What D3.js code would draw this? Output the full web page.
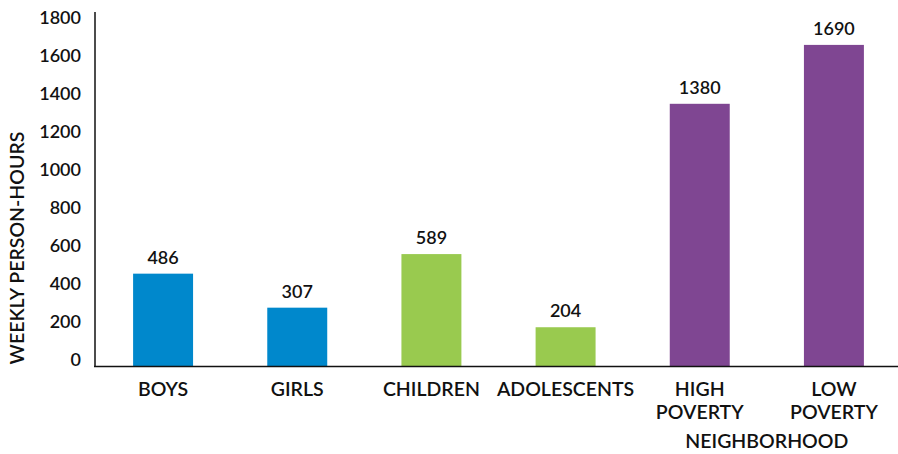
<!DOCTYPE html>
<html>
<head>
<meta charset="utf-8">
<script src="https://cdn.jsdelivr.net/npm/d3@7"></script>
<style>
  html, body { margin: 0; padding: 0; background: #fff; }
  svg text { font-family: "Lato", "Open Sans", sans-serif; font-weight: 600; fill: #111; }
</style>
</head>
<body>
<svg id="chart" width="898" height="454"></svg>
<script>
// Weekly person-hours by group
const categories = ["BOYS", "GIRLS", "CHILDREN", "ADOLESCENTS", "HIGH POVERTY", "LOW POVERTY"];
const labelLines = [["BOYS"], ["GIRLS"], ["CHILDREN"], ["ADOLESCENTS"], ["HIGH", "POVERTY"], ["LOW", "POVERTY"]];
const values = [486, 307, 589, 204, 1380, 1690];
const groups = ["sex", "sex", "age", "age", "neighborhood", "neighborhood"];
const yTicks = [0, 200, 400, 600, 800, 1000, 1200, 1400, 1600, 1800];
const groupColors = { sex: "#0088cc", age: "#99ca4f", neighborhood: "#7f4692" };

const svg = d3.select("#chart");
const baseY = 366;
const numSize = 18;
const wordSize = 19.5;

const x = d3.scaleBand()
  .domain(categories)
  .range([96, 901])
  .paddingInner(0.553)
  .paddingOuter(0.2765);

const y = d3.scaleLinear()
  .domain([0, 1800])
  .range([baseY, baseY - 1800 * 0.19]);

// Bars
svg.append("g").selectAll("rect")
  .data(values)
  .join("rect")
  .attr("x", (d, i) => x(categories[i]))
  .attr("width", x.bandwidth())
  .attr("y", d => y(d))
  .attr("height", d => y(0) - y(d) + 1)
  .attr("fill", (d, i) => groupColors[groups[i]]);

// Value labels above bars
svg.append("g").selectAll("text")
  .data(values)
  .join("text")
  .attr("x", (d, i) => x(categories[i]) + x.bandwidth() / 2)
  .attr("y", d => y(d) - 10)
  .attr("text-anchor", "middle")
  .attr("font-size", numSize)
  .text(d => d);

// Y axis: tick labels only, plus the axis rule
const yAxis = d3.axisLeft(y).tickValues(yTicks).tickSize(0).tickPadding(0).tickFormat(d3.format("d"));
const yg = svg.append("g").attr("transform", "translate(81,0)").call(yAxis);
yg.select(".domain").remove();
yg.selectAll("text")
  .attr("font-size", numSize)
  .attr("font-family", "Lato, sans-serif")
  .attr("font-weight", 600)
  .attr("fill", "#111")
  .attr("dy", "-0.05em");

svg.append("line")
  .attr("x1", 95).attr("x2", 95)
  .attr("y1", 12).attr("y2", baseY + 1)
  .attr("stroke", "#111").attr("stroke-width", 1.5);

// X axis rule
svg.append("line")
  .attr("x1", 94).attr("x2", 898)
  .attr("y1", baseY + 0.5).attr("y2", baseY + 0.5)
  .attr("stroke", "#111").attr("stroke-width", 1.5);

// Category labels
const catG = svg.append("g").selectAll("text")
  .data(labelLines)
  .join("text")
  .attr("x", (d, i) => x(categories[i]) + x.bandwidth() / 2)
  .attr("y", 396)
  .attr("text-anchor", "middle")
  .attr("font-size", wordSize);
catG.selectAll("tspan")
  .data(d => d)
  .join("tspan")
  .attr("x", function () { return d3.select(this.parentNode).attr("x"); })
  .attr("dy", (d, j) => j === 0 ? 0 : 23)
  .text(d => d);

// Group label under the neighborhood bars
svg.append("text")
  .attr("x", (x("HIGH POVERTY") + x("LOW POVERTY") + x.bandwidth()) / 2)
  .attr("y", 448)
  .attr("text-anchor", "middle")
  .attr("font-size", wordSize)
  .text("NEIGHBORHOOD");

// Y axis title
svg.append("text")
  .attr("transform", "translate(24,248) rotate(-90)")
  .attr("text-anchor", "middle")
  .attr("font-size", wordSize)
  .text("WEEKLY PERSON-HOURS");
</script>
</body>
</html>
